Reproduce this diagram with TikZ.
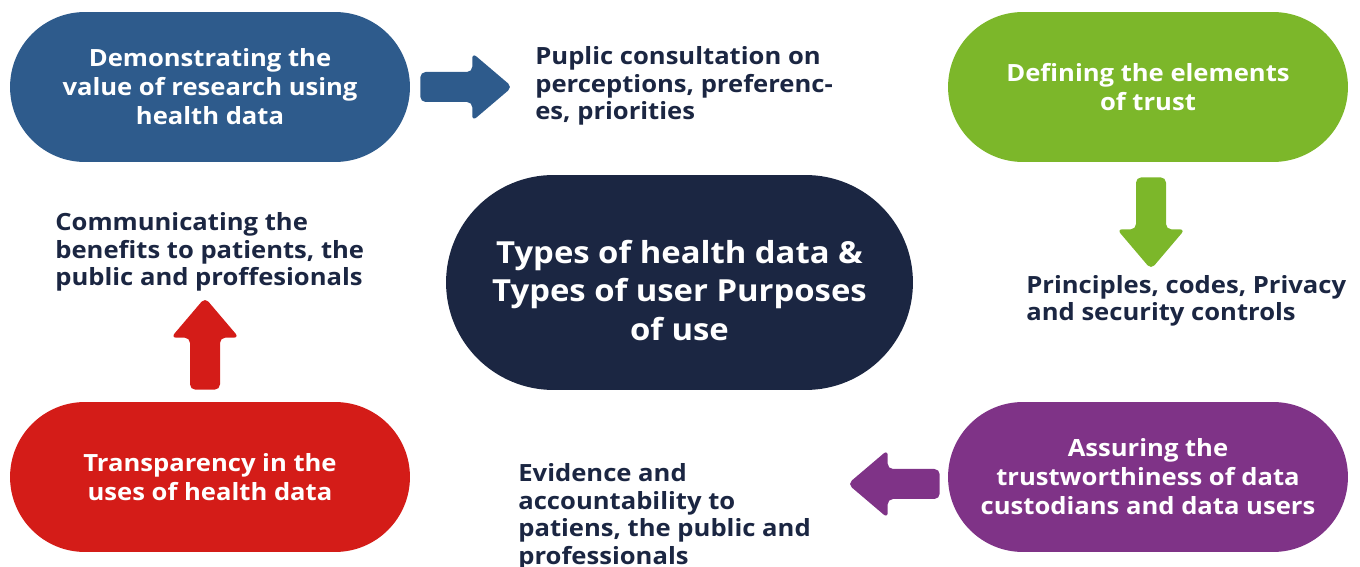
\documentclass[tikz,border=0pt]{standalone}
\usepackage{fontspec}
\setmainfont{Open Sans}
\IfFontExistsTF{Open Sans ExtraBold}
  {\newfontfamily\heavyfont{Open Sans ExtraBold}\newcommand\heavy{\heavyfont}}
  {\newfontfamily\heavyfont{Open Sans}[FakeStretch=1.08]\newcommand\heavy{\heavyfont\bfseries}}

\definecolor{trustblue}{HTML}{2E5B8C}
\definecolor{trustgreen}{HTML}{7CB72A}
\definecolor{trustnavy}{HTML}{1B2642}
\definecolor{trustred}{HTML}{D41C18}
\definecolor{trustpurple}{HTML}{7F3387}

\tikzset{
  pill/.style={rounded corners=1.5cm,minimum width=8cm,minimum height=3cm,inner sep=0pt,
    align=center,text=white,font=\heavy\fontsize{13.5}{16.5}\selectfont},
  note/.style={anchor=west,align=left,inner sep=0pt,text=trustnavy,
    font=\heavy\fontsize{13.5}{15.7}\selectfont},
  blockarrow/.pic={
    \fill[rounded corners=3pt] (0,-15) -- (52,-15) -- (52,-34) -- (92,0) -- (52,34) -- (52,15) -- (0,15) -- cycle;
  }
}

\begin{document}
\begin{tikzpicture}[x=0.02cm,y=-0.02cm]
      \useasboundingbox (0,0) rectangle (1360,567);

      % the four stages round the hub
      \node[pill,fill=trustblue] (value) at (210,87) {Demonstrating the\\value of research using\\health data};
      \node[pill,fill=trustgreen] (trust) at (1148,87) {Defining the elements\\of trust};
      \node[pill,fill=trustpurple] (assure) at (1148,477) {Assuring the\\trustworthiness of data\\custodians and data users};
      \node[pill,fill=trustred] (transp) at (210,477) {Transparency in the\\uses of health data};

      \node[pill,fill=trustnavy,rounded corners=2.15cm,minimum width=9.34cm,minimum height=4.3cm] (hub) at (679.5,282.5) {};
      \node[align=center,text=white,inner sep=0pt,font=\heavy\fontsize{17.3}{21.9}\selectfont] (hubtext)
        at ([shift={(0,8)}]hub.center) {Types of health data \&\\Types of user Purposes\\of use};

      % outcomes
      \node[note] (consult) at (535,86) {Puplic consultation on\\perceptions, preferenc-\\es, priorities};
      \node[note] (codes) at (1026,301) {Principles, codes, Privacy\\and security controls};
      \node[note] (evidence) at (518,517) {Evidence and\\accountability to\\patiens, the public and\\professionals};
      \node[note] (benefits) at (55,252) {Communicating the\\benefits to patients, the\\public and proffesionals};

      % block arrows
      \pic[color=trustblue] at ([shift={(10,0)}]value.east) {blockarrow};
      \pic[color=trustgreen,rotate=-90] at ([shift={(3,15)}]trust.south) {blockarrow};
      \pic[color=trustpurple,rotate=180] at ([shift={(-8,7)}]assure.west) {blockarrow};
      \pic[color=trustred,rotate=90] at ([shift={(-5,-12)}]transp.north) {blockarrow};
    \end{tikzpicture}
\end{document}
